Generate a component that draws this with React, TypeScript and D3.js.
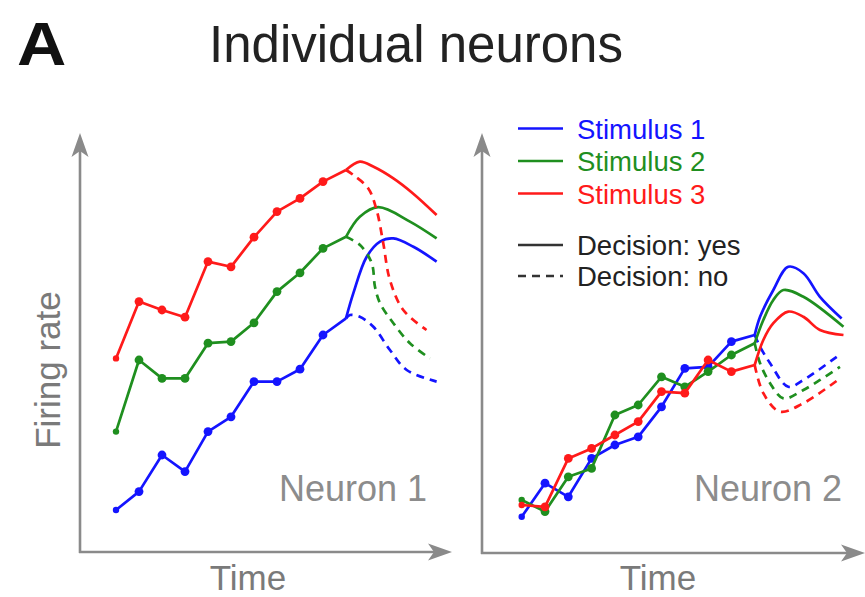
import React from "react";
import * as d3 from "d3";

// ---------- data ----------
const sampleTimes = [0, 1, 2, 3, 4, 5, 6, 7, 8, 9, 10];
const stimulusLabels = ["Stimulus 1", "Stimulus 2", "Stimulus 3"];
const stimulusColors = ["#1414ff", "#1f8f1f", "#ff1a1a"];
const decisionLabels = ["Decision: yes", "Decision: no"];
const panelTitles = ["Neuron 1", "Neuron 2"];

// Neuron 1 — firing rate at sample times (Stimulus 1,2,3)
const n1Stim1 = [10, 14.6, 23.75, 19.6, 29.6, 33.3, 42.1, 42.1, 45.2, 53.75, 57.9];
const n1Stim2 = [29.6, 47.5, 42.9, 42.9, 51.7, 52.1, 56.8, 64.6, 69.3, 75.4, 78.3];
const n1Stim3 = [47.9, 62.1, 60, 58.2, 72.1, 70.8, 78.2, 84.6, 87.9, 92.1, 95];
// Neuron 1 — after decision [time, rate]
const n1Stim1Yes = [[10, 57.9], [10.32, 64.2], [10.9, 73.3], [11.48, 77.1], [12.06, 77.9], [12.93, 75.8], [13.94, 72.1]];
const n1Stim1No = [[10, 57.9], [10.17, 58.75], [10.6, 58.3], [11.19, 55.8], [11.91, 50], [12.64, 45], [13.94, 42.1]];
const n1Stim2Yes = [[10, 78.3], [10.6, 83.3], [11.4, 85.7], [12.78, 82.1], [13.94, 77.9]];
const n1Stim2No = [[10, 78.3], [10.61, 76.25], [11.12, 71.7], [11.26, 65.8], [11.48, 61.7], [12.06, 56.7], [12.78, 51.7], [13.65, 47.9]];
const n1Stim3Yes = [[10, 95], [10.6, 97.1], [11.2, 95.8], [12.06, 92.9], [12.9, 89.2], [13.94, 83.75]];
const n1Stim3No = [[10, 95], [10.32, 93.75], [10.97, 90.4], [11.33, 85], [11.62, 76.7], [11.91, 67.5], [12.49, 60], [13.5, 55]];

// Neuron 2
const n2Stim1 = [8.3, 16.7, 13.3, 22.9, 26.25, 28.3, 35.8, 45.4, 45.8, 52.1, 53.75];
const n2Stim2 = [12.5, 9.6, 18.3, 20.4, 33.75, 36.25, 43.3, 40.8, 44.6, 48.75, 51.7];
const n2Stim3 = [11.25, 10.8, 22.9, 25.4, 28.75, 32.1, 39.6, 39.2, 47.5, 44.6, 46.25];
const n2Stim1Yes = [[10, 53.75], [10.23, 58.3], [10.8, 65], [11.44, 70.8], [12.09, 69.2], [12.8, 63.3], [13.73, 57.9]];
const n2Stim1No = [[10, 53.75], [10.23, 50.8], [10.66, 46.7], [11.44, 40.8], [12.09, 42.5], [13.52, 48.3]];
const n2Stim2Yes = [[10, 51.7], [10.37, 57.5], [10.8, 62.5], [11.23, 65], [12.09, 63.3], [13.81, 55.8]];
const n2Stim2No = [[10, 51.7], [10.23, 46.7], [10.66, 41.7], [11.23, 37.9], [12.09, 40], [13.66, 45.8]];
const n2Stim3Yes = [[10, 46.25], [10.37, 52.5], [10.8, 56.7], [11.44, 59.6], [12.09, 58.3], [12.8, 55], [13.81, 53.75]];
const n2Stim3No = [[10, 46.25], [10.37, 39.2], [11.08, 34.6], [12.09, 36.7], [13.66, 42.9]];

const FONT = "'Liberation Sans', Arial, Helvetica, sans-serif";
const AXIS = "#8a8a8a";
const LABEL = "#7a7a7a";

type Pt = number[];

function Arrow({ x, y, dir }: { x: number; y: number; dir: "up" | "right" }) {
  const L = 24, W = 8.5, N = 6;
  const d = `M0,0 L${-L},${-W} L${-L + N},0 L${-L},${W} Z`;
  const rot = dir === "up" ? -90 : 0;
  return <path d={d} fill={AXIS} transform={`translate(${x},${y}) rotate(${rot})`} />;
}

function Panel({
  x0, x1, axisX, axisY, topY, rightX, series, yes, no, title, titleX,
}: {
  x0: number; x1: number; axisX: number; axisY: number; topY: number; rightX: number;
  series: number[][]; yes: Pt[][]; no: Pt[][]; title: string; titleX: number;
}) {
  const x = d3.scaleLinear().domain([0, 10]).range([x0, x1]);
  const y = d3.scaleLinear().domain([0, 100]).range([550, 150]);
  const lin = d3.line<number>().x((_, i) => x(sampleTimes[i])).y((v) => y(v)).curve(d3.curveLinear);
  const smooth = d3.line<Pt>().x((p) => x(p[0])).y((p) => y(p[1])).curve(d3.curveCatmullRom.alpha(0.5));
  return (
    <g>
      <line x1={axisX} y1={axisY + 1} x2={axisX} y2={topY + 18} stroke={AXIS} strokeWidth={2.6} />
      <line x1={axisX - 1} y1={axisY} x2={rightX - 18} y2={axisY} stroke={AXIS} strokeWidth={2.6} />
      <Arrow x={axisX} y={topY} dir="up" />
      <Arrow x={rightX} y={axisY} dir="right" />
      {series.map((s, k) => (
        <g key={k}>
          <path d={smooth(no[k]) || ""} fill="none" stroke={stimulusColors[k]} strokeWidth={2.7} strokeDasharray="8 6" />
          <path d={smooth(yes[k]) || ""} fill="none" stroke={stimulusColors[k]} strokeWidth={2.7} />
          <path d={lin(s) || ""} fill="none" stroke={stimulusColors[k]} strokeWidth={2.7} strokeLinejoin="round" />
          {s.slice(0, 10).map((v, i) => (
            <circle key={i} cx={x(sampleTimes[i])} cy={y(v)} r={i === 0 ? 3.2 : 4.4} fill={stimulusColors[k]} />
          ))}
        </g>
      ))}
      <text x={titleX} y={501} textAnchor="end" fontFamily={FONT} fontSize={36} fill="#8c8c8c">{title}</text>
    </g>
  );
}

export default function App() {
  return (
    <svg width={865} height={597} style={{ position: "absolute", left: 0, top: 0, background: "#fff" }}>
      <text transform="translate(17,65) scale(1.12,1)" fontFamily={FONT} fontWeight="bold" fontSize={61} fill="#111">A</text>
      <text x={416} y={62} textAnchor="middle" fontFamily={FONT} fontSize={51} fill="#222">Individual neurons</text>

      <Panel x0={116} x1={346} axisX={80} axisY={552} topY={133} rightX={452}
        series={[n1Stim1, n1Stim2, n1Stim3]} yes={[n1Stim1Yes, n1Stim2Yes, n1Stim3Yes]}
        no={[n1Stim1No, n1Stim2No, n1Stim3No]} title={panelTitles[0]} titleX={427} />
      <Panel x0={521.7} x1={754.7} axisX={482} axisY={553} topY={133} rightX={865}
        series={[n2Stim1, n2Stim2, n2Stim3]} yes={[n2Stim1Yes, n2Stim2Yes, n2Stim3Yes]}
        no={[n2Stim1No, n2Stim2No, n2Stim3No]} title={panelTitles[1]} titleX={842} />

      <text transform="translate(60,370) rotate(-90)" textAnchor="middle" fontFamily={FONT} fontSize={35} fill={LABEL}>Firing rate</text>
      <text x={248} y={590} textAnchor="middle" fontFamily={FONT} fontSize={35} fill={LABEL}>Time</text>
      <text x={658} y={590} textAnchor="middle" fontFamily={FONT} fontSize={35} fill={LABEL}>Time</text>

      {stimulusLabels.map((lab, k) => (
        <g key={lab}>
          <line x1={518} x2={563} y1={128.5 + k * 32.5} y2={128.5 + k * 32.5} stroke={stimulusColors[k]} strokeWidth={2.7} />
          <text x={577} y={138.5 + k * 32.5} fontFamily={FONT} fontSize={27.5} fill={stimulusColors[k]}>{lab}</text>
        </g>
      ))}
      {decisionLabels.map((lab, k) => (
        <g key={lab}>
          <line x1={518} x2={563} y1={245 + k * 31} y2={245 + k * 31} stroke="#333" strokeWidth={2.7}
            strokeDasharray={k === 1 ? "8 6" : undefined} />
          <text x={577} y={255 + k * 31} fontFamily={FONT} fontSize={27.5} fill="#222">{lab}</text>
        </g>
      ))}
    </svg>
  );
}
